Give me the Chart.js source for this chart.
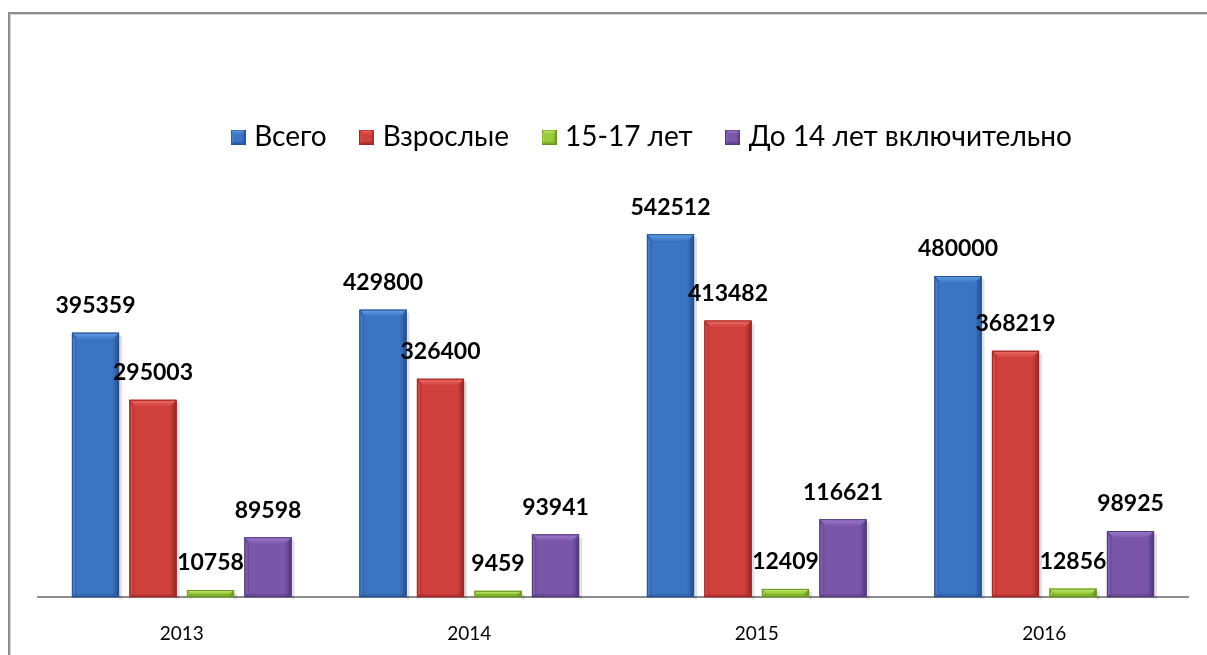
<!DOCTYPE html>
<html>
<head>
<meta charset="utf-8">
<script src="https://cdn.jsdelivr.net/npm/chart.js@4"></script>
<style>
  body { margin: 0; background: #fff; overflow: hidden; }
  #frame {
    position: absolute; left: 8px; top: 12px; width: 1400px; height: 900px;
    border: 2px solid #8c8c8c; box-shadow: inset 1px 1px 0 #d6d6d6;
  }
  #wrap { position: absolute; left: 0; top: 0; width: 1207px; height: 655px; }
</style>
</head>
<body>
<div id="frame"></div>
<div id="wrap"><canvas id="chart"></canvas></div>
<script>
// ================= DATA =================
const years = ["2013", "2014", "2015", "2016"];
const seriesNames = ["Всего", "Взрослые", "15-17 лет", "До 14 лет включительно"];
const total = [395359, 429800, 542512, 480000];
const adults = [295003, 326400, 413482, 368219];
const teens = [10758, 9459, 12409, 12856];
const children = [89598, 93941, 116621, 98925];

// base / light bevel / dark edge
const palette = [
    { base: "#3b74c3", light: "#64a0e6", dark: "#275391" },
    { base: "#d0403c", light: "#ee6b67", dark: "#9b2a27" },
    { base: "#98cb3b", light: "#c6ec78", dark: "#6a9524" },
    { base: "#7a56a9", light: "#9d7dcc", dark: "#553a7c" }
];

function drawBevel(ctx, l, t, r, b, c) {
    const w = r - l, h = b - t;
    const bv = Math.min(7, h / 2, w / 3);
    const sv = Math.min(3, w / 6);
    ctx.save();
    // body with soft horizontal shading
    const g = ctx.createLinearGradient(l, 0, r, 0);
    g.addColorStop(0, c.dark);
    g.addColorStop(0.12, c.base);
    g.addColorStop(0.85, c.base);
    g.addColorStop(1, c.dark);
    ctx.fillStyle = g;
    ctx.fillRect(l, t, w, h);
    // top bevel
    const tg = ctx.createLinearGradient(0, t, 0, t + bv);
    tg.addColorStop(0, c.light);
    tg.addColorStop(1, c.base);
    ctx.fillStyle = tg;
    ctx.beginPath();
    ctx.moveTo(l, t); ctx.lineTo(r, t);
    ctx.lineTo(r - bv, t + bv); ctx.lineTo(l + bv, t + bv);
    ctx.closePath(); ctx.fill();
    // left edge
    ctx.globalAlpha = 0.5;
    ctx.fillStyle = c.light;
    ctx.beginPath();
    ctx.moveTo(l, t); ctx.lineTo(l + sv, t + bv);
    ctx.lineTo(l + sv, b - sv); ctx.lineTo(l, b);
    ctx.closePath(); ctx.fill();
    // right edge + bottom
    ctx.fillStyle = c.dark;
    ctx.beginPath();
    ctx.moveTo(r, t); ctx.lineTo(r - sv, t + bv);
    ctx.lineTo(r - sv, b - sv); ctx.lineTo(r, b);
    ctx.closePath(); ctx.fill();
    ctx.beginPath();
    ctx.moveTo(l, b); ctx.lineTo(l + sv, b - sv);
    ctx.lineTo(r - sv, b - sv); ctx.lineTo(r, b);
    ctx.closePath(); ctx.fill();
    ctx.globalAlpha = 1;
    ctx.strokeStyle = c.dark;
    ctx.lineWidth = 1;
    ctx.strokeRect(l + 0.5, t + 0.5, w - 1, h - 1);
    ctx.restore();
}

function legendIcon(c) {
    const cv = document.createElement("canvas");
    cv.width = 15; cv.height = 15;
    drawBevel(cv.getContext("2d"), 0, 0, 15, 15, c);
    return cv;
}

const seriesData = [total, adults, teens, children];
const datasets = seriesData.map((d, i) => ({
    label: seriesNames[i],
    data: d,
    backgroundColor: palette[i].base,
    borderWidth: 0,
    pointStyle: legendIcon(palette[i]),
    categoryPercentage: 0.8,
    barPercentage: 0.82
}));

const bevelBars = {
    id: "bevelBars",
    afterLayout(chart) {
        // legend sits a little right of centre in the original
        chart.legend.left += 41;
        chart.legend.right += 41;
    },
    afterDatasetsDraw(chart) {
        const ctx = chart.ctx;
        chart.data.datasets.forEach((ds, i) => {
            chart.getDatasetMeta(i).data.forEach(bar => {
                const l = bar.x - bar.width / 2, r = bar.x + bar.width / 2;
                // soft shadow
                ctx.save();
                ctx.fillStyle = "rgba(0,0,0,0.12)";
                ctx.fillRect(r, bar.y + 3, 3, bar.base - bar.y - 1);
                ctx.restore();
                drawBevel(ctx, l, bar.y, r, bar.base, palette[i]);
            });
        });
        // value labels
        ctx.save();
        ctx.font = "bold 23px Lato";
        ctx.fillStyle = "#000";
        ctx.textAlign = "center";
        ctx.textBaseline = "middle";
        chart.data.datasets.forEach((ds, i) => {
            chart.getDatasetMeta(i).data.forEach((bar, j) => {
                ctx.fillText(String(ds.data[j]), bar.x, bar.y - 27);
            });
        });
        ctx.restore();
    }
};

new Chart(document.getElementById("chart"), {
    type: "bar",
    data: { labels: years, datasets: datasets },
    plugins: [bevelBars],
    options: {
        responsive: true,
        maintainAspectRatio: false,
        animation: false,
        layout: { padding: { top: 85, left: 38, right: 19, bottom: -15 } },
        plugins: {
            tooltip: { enabled: false },
            legend: {
                position: "top",
                labels: {
                    usePointStyle: true,
                    pointStyleWidth: 4,
                    color: "#000",
                    font: { family: "Lato", size: 28 },
                    padding: 38
                }
            }
        },
        scales: {
            x: {
                grid: { display: false, drawTicks: false },
                border: { color: "#8c8c8c", width: 2 },
                ticks: { color: "#000", font: { family: "Lato", size: 19 }, padding: 25 }
            },
            y: {
                display: false,
                min: 0,
                max: 652000
            }
        }
    }
});
</script>
</body>
</html>
